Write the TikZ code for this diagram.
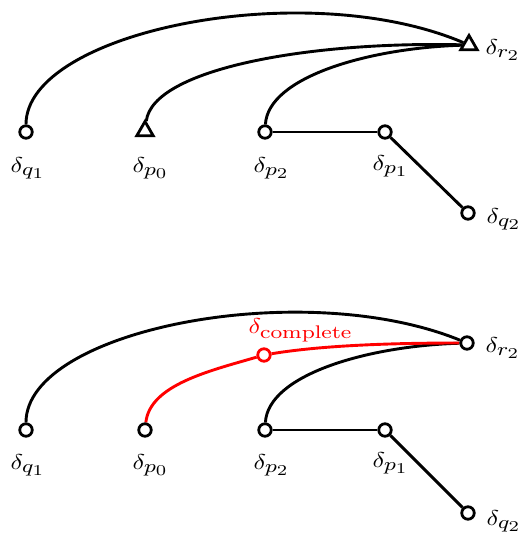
\RequirePackage{fix-cm}
\documentclass[tikz,border=0pt]{standalone}
\usetikzlibrary{shapes.geometric,backgrounds}
\DeclareMathSizes{10}{10}{8.5}{7}
\begin{document}
\begin{tikzpicture}[x=1pt,y=-1pt,
  vtx/.style={circle,draw,line width=2.8pt,fill=white,minimum size=12.5pt,inner sep=0pt},
  tri/.style={regular polygon,regular polygon sides=3,draw,line width=2.8pt,fill=white,minimum size=19pt,inner sep=0pt},
  edge/.style={line width=2.9pt},
  redge/.style={line width=2.9pt,red},
  lbl/.style={anchor=base west,inner sep=0pt,xscale=2.6,yscale=2.15}]
\useasboundingbox (0,0) rectangle (526,536);
% ---------- top ----------
\node[vtx] (q1) at (26,132) {};
\node[tri] (p0) at (145,131) {};
\node[vtx] (p2) at (265,132) {};
\node[vtx] (p1) at (385,132) {};
\node[vtx] (q2) at (468,213) {};
\node[tri] (r2) at (469,45) {};
\node[lbl] (lq1) at (10,172) {$\delta_{q_1}$};
\node[lbl] (lp0) at (132,172) {$\delta_{p_0}$};
\node[lbl] (lp2) at (253,172) {$\delta_{p_2}$};
\node[lbl] (lp1) at (372,170) {$\delta_{p_1}$};
\node[lbl] (lq2) at (486,223) {$\delta_{q_2}$};
\node[lbl] (lr2) at (485,54) {$\delta_{r_2}$};
% ---------- bottom ----------
\node[vtx] (bq1) at (26,430) {};
\node[vtx] (bp0) at (145,430) {};
\node[vtx] (bp2) at (265,430) {};
\node[vtx] (bp1) at (385,430) {};
\node[vtx] (bq2) at (468,513) {};
\node[vtx] (br2) at (467,343) {};
\node[vtx,draw=red] (bc) at (264,355) {};
\node[lbl] (blq1) at (10,469) {$\delta_{q_1}$};
\node[lbl] (blp0) at (132,469) {$\delta_{p_0}$};
\node[lbl] (blp2) at (253,469) {$\delta_{p_2}$};
\node[lbl] (blp1) at (372,467) {$\delta_{p_1}$};
\node[lbl] (blq2) at (486,525) {$\delta_{q_2}$};
\node[lbl] (blr2) at (485,352) {$\delta_{r_2}$};
\node[lbl,text=red] (lc) at (248,333) {$\delta_{\mathrm{complete}}$};
\begin{scope}[on background layer]
\draw[edge] (q1) .. controls +(0,-100) and +(-165,-70) .. (r2);
\draw[edge] (p0) .. controls +(8,-62) and +(-160,-4) .. (r2);
\draw[edge] (p2) .. controls +(3,-55) and +(-100,3) .. (r2);
\draw[edge] (p2) -- (p1);
\draw[edge] (p1) -- (q2);
\draw[edge] (bq1) .. controls +(0,-100) and +(-165,-67) .. (br2);
\draw[edge] (bp2) .. controls +(3,-55) and +(-100,3) .. (br2);
\draw[edge] (bp2) -- (bp1);
\draw[edge] (bp1) -- (bq2);
\draw[redge] (bp0) .. controls +(5,-45) and +(-55,16) .. (bc);
\draw[redge] (bc) .. controls +(60,-10) and +(-70,0) .. (br2);
\end{scope}
\end{tikzpicture}
\end{document}
